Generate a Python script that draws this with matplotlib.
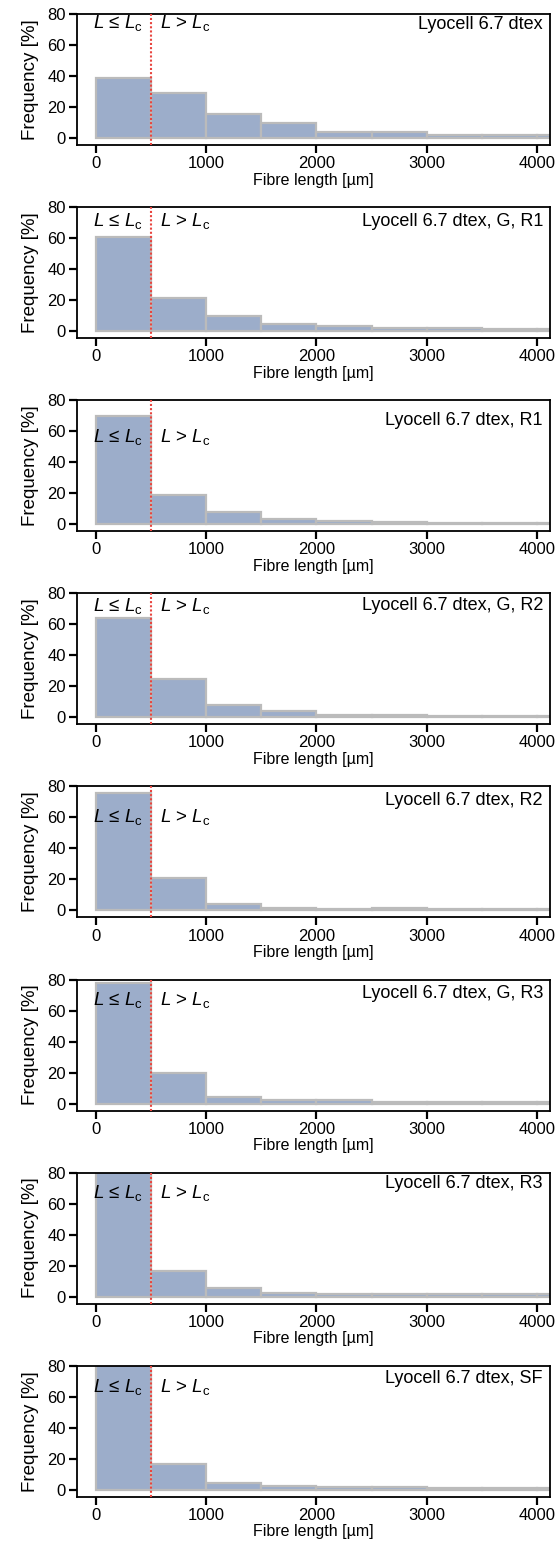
import matplotlib
matplotlib.use('Agg')
import matplotlib.pyplot as plt
import numpy as np

plt.rcParams['font.family'] = ['Liberation Sans', 'DejaVu Sans']
plt.rcParams['mathtext.fontset'] = 'custom'
plt.rcParams['mathtext.rm'] = 'Liberation Sans'
plt.rcParams['mathtext.it'] = 'Liberation Sans:italic'

# bin edges of the fibre length histograms [um]
bin_edges = [0, 500, 1000, 1500, 2000, 2500, 3000, 3500, 4000, 4500]

# sample names
samples = ['Lyocell 6.7 dtex', 'Lyocell 6.7 dtex, G, R1', 'Lyocell 6.7 dtex, R1',
           'Lyocell 6.7 dtex, G, R2', 'Lyocell 6.7 dtex, R2', 'Lyocell 6.7 dtex, G, R3',
           'Lyocell 6.7 dtex, R3', 'Lyocell 6.7 dtex, SF']

# frequencies [%] per bin
freq_raw = [39, 29, 15.5, 9.5, 3.8, 3.8, 2.0, 2.0, 2.0]
freq_g_r1 = [61, 21.5, 9.5, 4.8, 3.2, 2.1, 2.1, 1.5, 1.5]
freq_r1 = [70, 19, 7.8, 3.3, 2.2, 1.5, 0.9, 0.9, 0.9]
freq_g_r2 = [64, 24.6, 8, 4.2, 1.5, 1.5, 0.8, 0.8, 0.8]
freq_r2 = [76, 20.6, 4.2, 1.7, 0.8, 1.7, 0.8, 0.8, 0.8]
freq_g_r3 = [77.5, 19.8, 4.3, 2.0, 2.0, 1.3, 1.3, 1.3, 1.3]
freq_r3 = [81, 16.4, 5.3, 2.5, 1.5, 1.5, 1.5, 1.5, 1.5]
freq_sf = [81, 16.4, 4.6, 2.5, 1.7, 1.7, 1.0, 1.0, 1.0]
freqs = [freq_raw, freq_g_r1, freq_r1, freq_g_r2, freq_r2, freq_g_r3, freq_r3, freq_sf]

# critical fibre length [um]
L_c = 500

# height of the L labels / sample names in each panel (layout only)
label_y = [74, 71, 56, 72, 60, 67, 67, 66]
name_y = [73, 71, 67, 72, 71, 71, 73, 72]

W, H = 555, 1546
fig = plt.figure(figsize=(W / 100, H / 100), dpi=100)

left, right = 77, 550
top0, ax_h, step = 14, 131, 193.1
ymin = -4.5

le_label = '$L$ \u2264 $L_{\\mathrm{c}}$'
gt_label = '$L$ > $L_{\\mathrm{c}}$'

widths = np.diff(bin_edges)
for i, (name, f) in enumerate(zip(samples, freqs)):
    top = top0 + i * step
    ax = fig.add_axes([left / W, 1 - (top + ax_h) / H, (right - left) / W, ax_h / H])
    ax.bar(bin_edges[:-1], f, width=widths, align='edge', color='#9cadca',
           edgecolor='#bbbbbb', linewidth=1.6, zorder=1)
    ax.axvline(L_c, color='#e8453f', linestyle=(0, (1.0, 1.0)), linewidth=1.5, zorder=3)
    ax.set_xlim(-168, 4116)
    ax.set_ylim(ymin, 80)
    ax.set_xticks([0, 1000, 2000, 3000, 4000])
    ax.set_yticks([0, 20, 40, 60, 80])
    ax.tick_params(direction='out', length=6, width=1.6, labelsize=12, pad=2)
    for s in ax.spines.values():
        s.set_linewidth(1.3)
    ax.set_xlabel('Fibre length [\u00b5m]', fontsize=11.5, labelpad=1)
    ax.set_ylabel('Frequency [%]', fontsize=13.5, labelpad=6)
    ax.text(430, label_y[i], le_label, fontsize=13.5, ha='right', va='center', zorder=4)
    ax.text(585, label_y[i], gt_label, fontsize=13.5, ha='left', va='center', zorder=4)
    ax.text(0.985, (name_y[i] - ymin) / (80 - ymin), name, transform=ax.transAxes, fontsize=13,
            ha='right', va='center')

fig.savefig('out.png', dpi=100)
